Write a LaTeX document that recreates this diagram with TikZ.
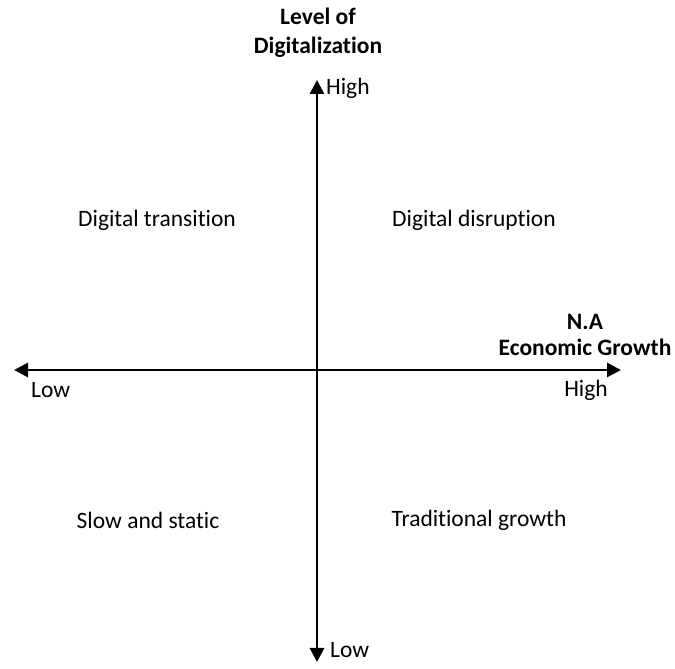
\documentclass[tikz,border=0pt]{standalone}
\usepackage{fontspec}
\setmainfont[Ligatures=NoCommon]{Carlito}
\usetikzlibrary{arrows.meta,positioning}

\tikzset{
    axis/.style={line width=2.8pt, {Triangle[length=14pt,width=14pt]}-{Triangle[length=14pt,width=14pt]}},
    quadrant/.style={font=\fontsize{23.5}{28}\selectfont, inner sep=0pt},
    tick/.style={font=\fontsize{23.5}{28}\selectfont, inner sep=0pt},
    title/.style={font=\fontsize{23.5}{29}\selectfont\bfseries, align=center, inner sep=0pt}
}

\begin{document}
\begin{tikzpicture}[x=1pt, y=1pt]
    \useasboundingbox (0,0) rectangle (675,669);

    % axis end points
    \coordinate (ytop) at (317,589);
    \coordinate (ybot) at (317,7);
    \coordinate (xleft) at (14,299);
    \coordinate (xright) at (621,299);

    \draw[axis] (ybot) -- (ytop);
    \draw[axis] (xleft) -- (xright);

    % axis titles
    \node[title] (ytitle) at (318,636) {Level of\\Digitalization};
    \node[title] (xtitle) at (585,334) {N.A\\[-3pt]Economic Growth};

    % axis ends
    \node[tick, anchor=west] (yhigh) at (326,581) {High};
    \node[tick, anchor=west] (ylow) at (330,19) {Low};
    \node[tick, anchor=west] (xlow) at (31,279) {Low};
    \node[tick] (xhigh) at (586,279) {High};

    % quadrants
    \node[quadrant] (trans) at (157,449) {Digital transition};
    \node[quadrant] (disrupt) at (474,449) {Digital disruption};
    \node[quadrant] (slow) at (148,149) {Slow and static};
    \node[quadrant] (trad) at (479,149) {Traditional growth};
\end{tikzpicture}
\end{document}
